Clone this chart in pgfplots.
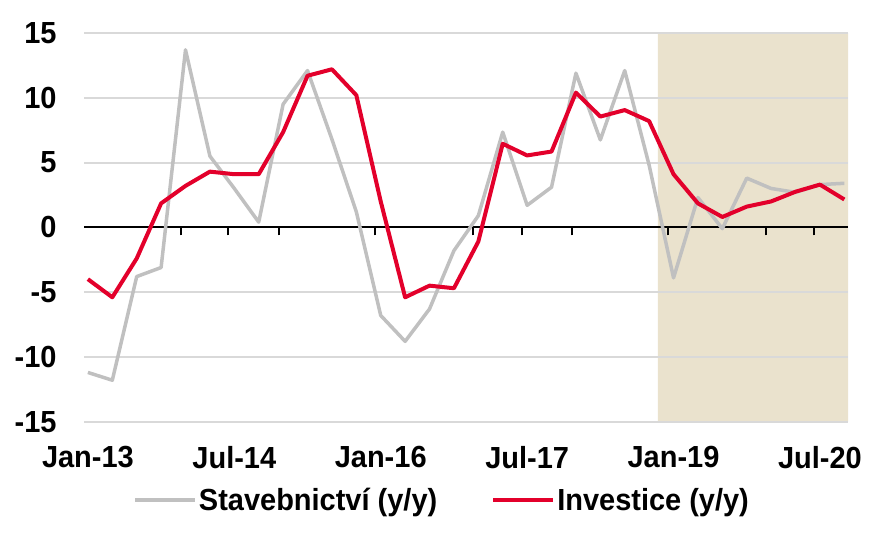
\documentclass[border=0pt]{standalone}
\usepackage{pgfplots}
\pgfplotsset{compat=1.18}
\usepackage{fontspec}
\setmainfont{Liberation Sans}[FakeStretch=0.95]
\definecolor{cred}{RGB}{227,0,43}
\definecolor{cgray}{RGB}{192,192,192}
\definecolor{cgrid}{RGB}{217,217,217}
\definecolor{cshade}{RGB}{234,226,205}
\pgfplotstableread{
i gray red
0 -11.2 -4.0
1 -11.8 -5.4
2 -3.8 -2.4
3 -3.1 1.85
4 13.7 3.2
5 5.5 4.3
6 3.0 4.1
7 0.4 4.1
8 9.5 7.35
9 12.1 11.7
10 6.8 12.2
11 1.2 10.2
12 -6.8 2.0
13 -8.8 -5.4
14 -6.3 -4.5
15 -1.8 -4.7
16 0.9 -1.1
17 7.35 6.45
18 1.7 5.55
19 3.1 5.85
20 11.9 10.4
21 6.75 8.55
22 12.1 9.05
23 4.8 8.2
24 -3.9 4.1
25 2.3 1.85
26 -0.1 0.8
27 3.8 1.6
28 3.0 2.0
29 2.7 2.75
30 3.3 3.3
31 3.4 2.15
}\datatable
\begin{document}
\begin{tikzpicture}
\path (0,0) rectangle (880bp,540bp);
\begin{axis}[
  set layers,
  at={(84bp,118.3bp)}, anchor=south west,
  scale only axis, width=764bp, height=388.7bp,
  xmin=-0.16, xmax=31.15, ymin=-15, ymax=15,
  axis line style={draw=none}, major tick length=0pt,
  xtick={0,6,12,18,24,30},
  xticklabels={Jan-13,Jul-14,Jan-16,Jul-17,Jan-19,Jul-20},
  ytick={-15,-10,-5,0,5,10,15},
  yticklabels={-15,-10,-5,0,5,10,15},
  ymajorgrids, grid style={color=cgrid, line width=2bp},
  tick label style={font=\fontsize{30.5bp}{34bp}\selectfont\bfseries},
  xticklabel style={yshift=-21bp},
  yticklabel style={xshift=-24bp},
  legend columns=2,
  legend style={at={(0.0645,-0.2014)}, anchor=west, draw=none, fill=none, inner sep=0pt,
    font=\fontsize{30.5bp}{34bp}\selectfont\bfseries,
    /tikz/every even column/.append style={column sep=52bp}},
  legend cell align=left,
  legend image code/.code={\draw[#1] (0bp,0bp) -- (60bp,0bp);},
]
\addplot[fill=cshade, draw=none, on layer=axis background, forget plot]
  coordinates {(23.36,-15) (31.15,-15) (31.15,15) (23.36,15)} \closedcycle;
\addplot[black, line width=2bp, forget plot] coordinates {(-0.16,0) (31.15,0)};
\addplot[cgray, line width=3.5bp, line join=round] table[x=i, y=gray] {\datatable};
\addlegendentry{Stavebnictví (y/y)}
\addplot[cred, line width=4bp, line join=round] table[x=i, y=red] {\datatable};
\addlegendentry{Investice (y/y)}
\end{axis}
\begin{axis}[
  at={(84bp,118.3bp)}, anchor=south west,
  scale only axis, width=764bp, height=388.7bp,
  xmin=-0.16, xmax=31.15, ymin=-15, ymax=15,
  axis line style={draw=none}, hide y axis,
  axis x line*=middle,
  xtick={-0.16,3.81,5.74,7.83,11.76,15.78,17.79,19.84,23.77,27.79,29.75},
  xticklabels={}, tick align=outside, major tick length=8bp,
  xtick style={black, line width=2bp},
]
\addplot[draw=none] coordinates {(0,0)};
\end{axis}
\end{tikzpicture}
\end{document}
